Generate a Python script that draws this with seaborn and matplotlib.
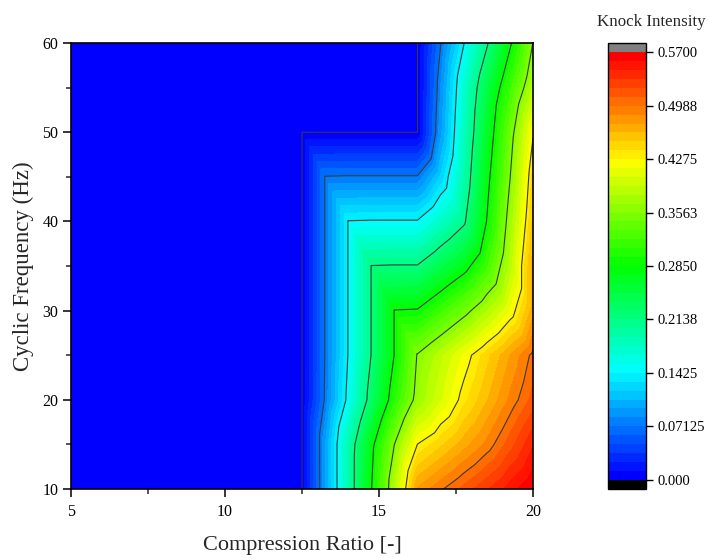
import numpy as np
import matplotlib
matplotlib.use("Agg")
import matplotlib.pyplot as plt
import matplotlib.tri as mtri
from matplotlib.colors import ListedColormap
from matplotlib.ticker import MultipleLocator
import seaborn as sns

# --- Daten: Gitter (Verdichtung x Frequenz) ---
compression_ratio = [5, 12.5, 13.25, 14.0, 14.75, 15.5, 16.25, 17.0, 17.75, 18.5, 19.25, 20.0]
frequency_hz = [10, 15, 20, 25, 30, 35, 40, 45, 50, 55, 60]

# Knock Intensity, eine Liste pro Frequenz (Werte aus dem Bild geschaetzt)
knock_f10 = [0, 0, 0.0929, 0.189, 0.2837, 0.381, 0.477, 0.4965, 0.515, 0.533, 0.552, 0.570]
knock_f15 = [0, 0, 0.0933, 0.1888, 0.275, 0.3563, 0.428, 0.4485, 0.4694, 0.4904, 0.517, 0.545]
knock_f20 = [0, 0, 0.074, 0.150, 0.2286, 0.304, 0.368, 0.402, 0.435, 0.462, 0.4896, 0.515]
knock_f25 = [0, 0, 0.0722, 0.1435, 0.2145, 0.286, 0.3585, 0.388, 0.4177, 0.4465, 0.475, 0.503]
knock_f30 = [0, 0, 0.0722, 0.1435, 0.2145, 0.286, 0.2875, 0.316, 0.3456, 0.379, 0.415, 0.470]
knock_f35 = [0, 0, 0.0722, 0.1435, 0.2145, 0.2155, 0.2155, 0.2437, 0.272, 0.3167, 0.384, 0.470]
knock_f40 = [0, 0, 0.0722, 0.1435, 0.1445, 0.1445, 0.1445, 0.176, 0.2077, 0.286, 0.369, 0.455]
knock_f45 = [0, 0, 0.0722, 0.073, 0.073, 0.073, 0.073, 0.120, 0.1884, 0.274, 0.355, 0.444]
knock_f50 = [0, 0, 0, 0, 0, 0, 0, 0.090, 0.1775, 0.2605, 0.342, 0.425]
knock_f55 = [0, 0, 0, 0, 0, 0, 0, 0.083, 0.169, 0.246, 0.315, 0.383]
knock_f60 = [0, 0, 0, 0, 0, 0, 0, 0.0705, 0.141, 0.2095, 0.280, 0.357]

cbar_ticks = [0, 0.07125, 0.1425, 0.21375, 0.285, 0.35625, 0.4275, 0.49875, 0.57]
cbar_labels = ["0.000", "0.07125", "0.1425", "0.2138", "0.2850",
               "0.3563", "0.4275", "0.4988", "0.5700"]

z = np.array([knock_f10, knock_f15, knock_f20, knock_f25, knock_f30, knock_f35,
              knock_f40, knock_f45, knock_f50, knock_f55, knock_f60])

sns.set_style("ticks")
plt.rcParams['font.family'] = ['Liberation Serif', 'DejaVu Serif']

# Triangulierung wie im Original (Diagonale von unten rechts nach oben links)
nx, ny = len(compression_ratio), len(frequency_hz)
X, Y = np.meshgrid(compression_ratio, frequency_hz)
triangles = []
for j in range(ny - 1):
    for i in range(nx - 1):
        a = j * nx + i
        b = a + 1
        c = a + nx
        d = c + 1
        triangles.append([a, b, c])
        triangles.append([b, d, c])
tri = mtri.Triangulation(X.ravel(), Y.ravel(), triangles)

# Farbskala: 48 Stufen blau -> cyan -> gruen -> gelb -> rot
n_bands = 48
palette = sns.blend_palette(["#0000ff", "#00ffff", "#00ff00", "#ffff00", "#ff0000"], n_colors=n_bands)
cmap = ListedColormap(palette).with_extremes(over="#808080", under="black")
levels = np.linspace(0, 0.57, n_bands + 1)
levels[0] = -1e-6
line_levels = [1e-4] + cbar_ticks[1:-1]

fig = plt.figure(figsize=(7.08, 5.6), dpi=100)
ax = fig.add_axes([71 / 708, 71 / 560, 462 / 708, 446 / 560])

cf = ax.tricontourf(tri, z.ravel(), levels=levels, cmap=cmap, extend='both')
ax.tricontour(tri, z.ravel(), levels=line_levels, colors='#3a3a3a', linewidths=0.8)

ax.set_xlim(5, 20)
ax.set_ylim(10, 60)
ax.xaxis.set_major_locator(MultipleLocator(5))
ax.xaxis.set_minor_locator(MultipleLocator(2.5))
ax.yaxis.set_major_locator(MultipleLocator(10))
ax.yaxis.set_minor_locator(MultipleLocator(5))
ax.tick_params(which='major', direction='out', length=6, width=1.1, labelsize=11.5,
               colors='black', top=False, right=False, pad=3)
ax.tick_params(which='minor', direction='out', length=3.5, width=1.1, top=False, right=False)
ax.tick_params(axis='x', which='major', pad=5)
for sp in ax.spines.values():
    sp.set_linewidth(1.2)
    sp.set_color('black')

ax.set_xlabel('Compression Ratio [-]', fontsize=16, labelpad=11)
ax.set_ylabel('Cyclic Frequency (Hz)', fontsize=16.5, labelpad=6)

# Farbbalken mit grauer/schwarzer Kappe
cax = fig.add_axes([608 / 708, 71 / 560, 38 / 708, 446 / 560])
cb = fig.colorbar(cf, cax=cax, ticks=cbar_ticks, extendrect=True, extendfrac=0.022)
cb.set_ticklabels(cbar_labels)
cb.ax.minorticks_off()
cb.ax.tick_params(direction='out', length=5, width=1, labelsize=10.5, colors='black', pad=3)
cb.outline.set_linewidth(1)
cb.outline.set_edgecolor('black')

fig.text(651 / 708, 1 - 22 / 560, 'Knock Intensity', fontsize=12.2, ha='center', va='center')

fig.savefig('out.png', dpi=100)
plt.close(fig)
